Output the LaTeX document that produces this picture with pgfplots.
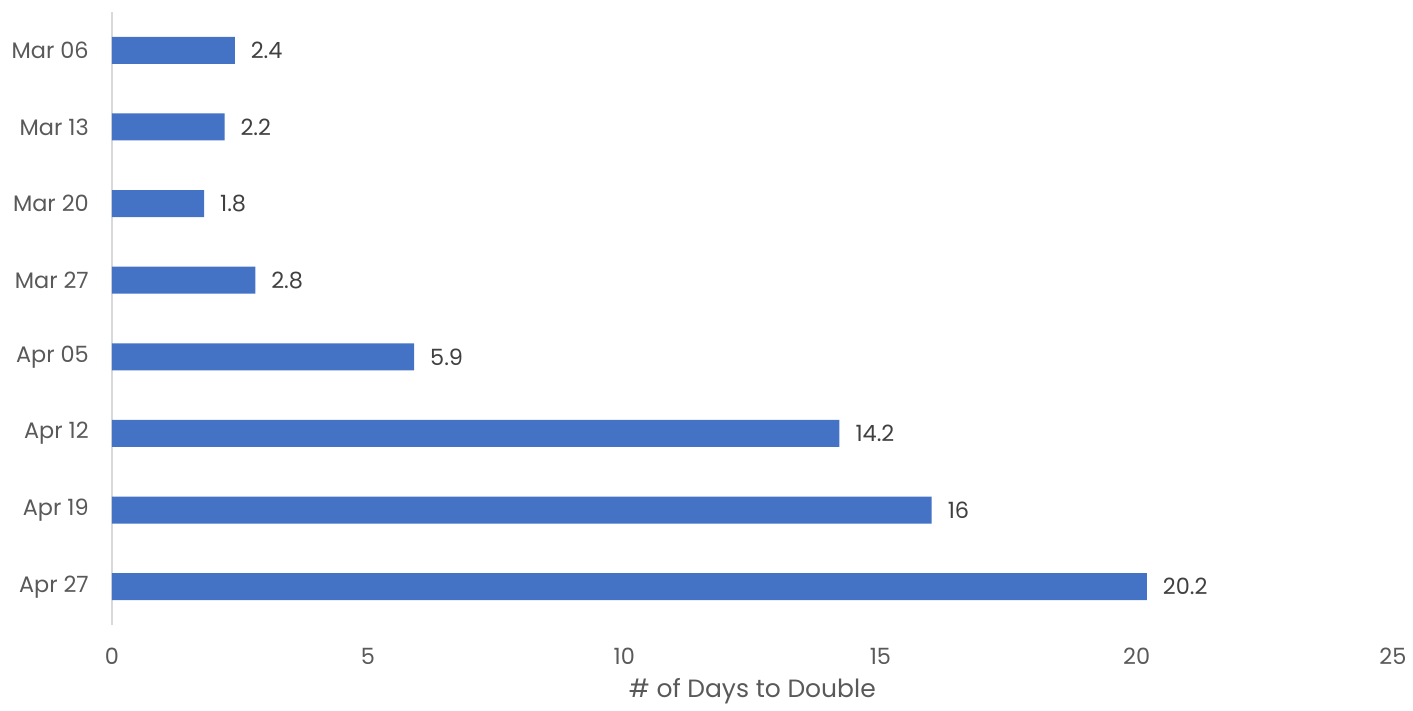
\documentclass[border={2.5pt 0pt 0pt 0pt}]{standalone}
\usepackage{pgfplots}
\pgfplotsset{compat=1.18}
\usepackage{fontspec}
\setmainfont{Poppins}
\definecolor{barblue}{HTML}{4472C4}
\definecolor{lbl}{HTML}{595959}
\definecolor{val}{HTML}{404040}
\definecolor{axisgray}{HTML}{D9D9D9}
\begin{document}
\begin{tikzpicture}
\begin{axis}[
  scale only axis,
  width=640.5pt, height=306.5pt,
  xbar, bar width=13.5pt,
  xmin=0, xmax=25, ymin=-0.5, ymax=7.5,
  y dir=reverse,
  ytick={0,1,2,3,4,5,6,7},
  yticklabels={Mar 06,Mar 13,Mar 20,Mar 27,Apr 05,Apr 12,Apr 19,Apr 27},
  xtick={0,5,10,15,20,25},
  axis x line=bottom, axis y line=left,
  x axis line style={draw=none},
  y axis line style={draw=axisgray, line width=0.8pt, -},
  major tick length=0pt,
  tick style={draw=none},
  ticklabel style={font=\fontsize{11.2}{13}\selectfont, text=lbl},
  xticklabel style={yshift=-8pt},
  yticklabel style={xshift=-8pt},
  /pgf/number format/assume math mode=true,
  xlabel={\# of Days to Double},
  xlabel style={font=\fontsize{12.5}{14}\selectfont, text=lbl, yshift=0pt},
  nodes near coords,
  nodes near coords style={font=\fontsize{11.2}{13}\selectfont, text=val, anchor=west, xshift=4.5pt},
  point meta=explicit symbolic,
]
\addplot[fill=barblue, draw=none] table[meta=lab] {
x y lab
2.4 0 2.4
2.2 1 2.2
1.8 2 1.8
2.8 3 2.8
5.9 4 5.9
14.2 5 14.2
16 6 16
20.2 7 20.2
};
\end{axis}
\path (current axis.north west) ++(0,6pt);
\end{tikzpicture}
\end{document}
